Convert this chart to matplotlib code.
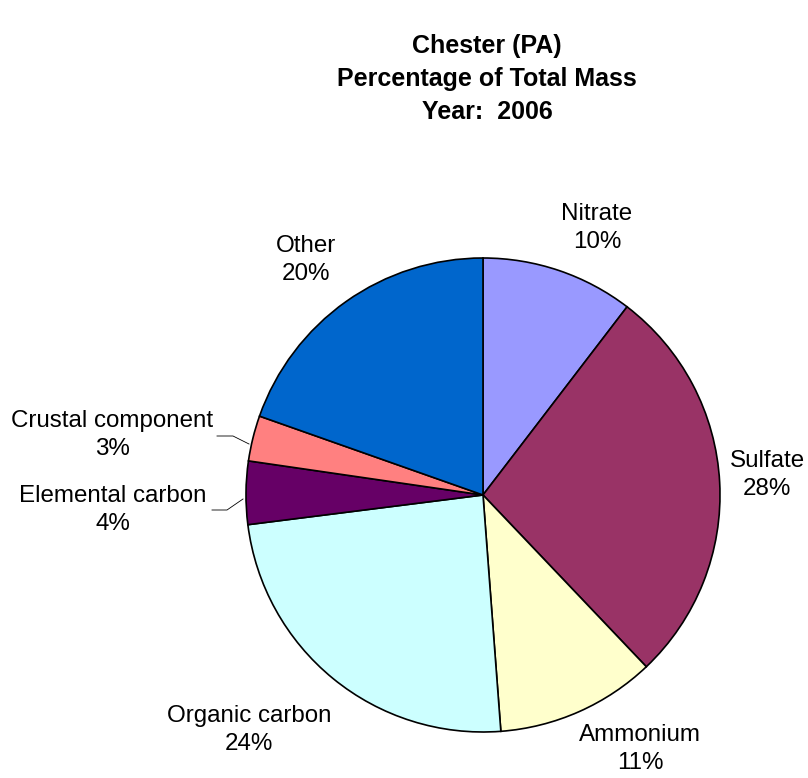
import matplotlib.pyplot as plt

plt.rcParams['font.family'] = ['Liberation Sans', 'DejaVu Sans']

# data
components = ['Nitrate', 'Sulfate', 'Ammonium', 'Organic carbon',
              'Elemental carbon', 'Crustal component', 'Other']
shares = [10.4, 27.5, 10.9, 24.2, 4.3, 3.1, 19.6]
colors = ['#9999FF', '#993366', '#FFFFCC', '#CCFFFF', '#660066', '#FF8080', '#0066CC']

W, H = 808, 778
fig = plt.figure(figsize=(W / 100, H / 100), dpi=100)
ax = fig.add_axes([0, 0, 1, 1])

# pie in pixel-like coordinates (y up)
cx, cy, r = 483, H - 495, 237
ax.pie(shares, colors=colors, startangle=90, counterclock=False,
       center=(cx, cy), radius=r, frame=False,
       wedgeprops=dict(edgecolor='black', linewidth=1.2))

# label positions (pixels, y down)
label_pos = [(597, 228), (767, 475), (640, 749), (249, 730),
             (113, 510), (112, 435), (306, 260)]
for name, val, (px, py) in zip(components, shares, label_pos):
    ax.text(px, H - py, f'{name}\n{round(val):.0f}%', ha='center', va='center',
            fontsize=17.4, linespacing=1.35)

# leader lines for the small slices
ax.plot([217, 233, 249], [H - 436, H - 436, H - 444], color='black', lw=0.6)
ax.plot([212, 227, 243], [H - 510, H - 510, H - 499], color='black', lw=0.6)

ax.text(487, H - 79, 'Chester (PA)\nPercentage of Total Mass\nYear:  2006',
        ha='center', va='center', fontsize=18, fontweight='bold', linespacing=1.47)

ax.set_xlim(0, W)
ax.set_ylim(0, H)
ax.set_aspect('equal')
ax.axis('off')

fig.savefig('out.png', dpi=100)
